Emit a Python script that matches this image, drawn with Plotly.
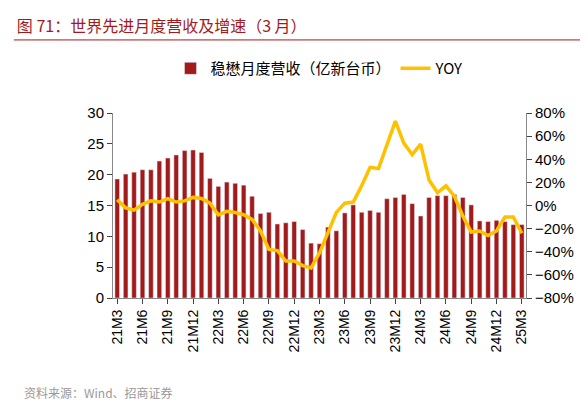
import plotly.graph_objects as go

months = []
for y in range(21, 26):
    for m in range(1, 13):
        if (y == 21 and m < 3) or (y == 25 and m > 3):
            continue
        months.append(f"{y}M{m}")

revenue = [19.3, 20.1, 20.4, 20.8, 20.8, 22.2, 22.7, 23.2, 23.9, 24.0, 23.6, 19.4,
           18.1, 18.8, 18.6, 18.3, 16.5, 13.7, 13.9, 12.0, 12.2, 12.4, 11.1, 8.9,
           8.8, 11.5, 10.9, 13.8, 15.1, 13.9, 14.2, 13.9, 16.1, 16.3, 16.8, 15.3,
           13.3, 16.3, 16.6, 16.6, 16.8, 16.3, 15.1, 12.5, 12.4, 12.6, 12.4, 11.9, 11.9]
yoy = [5, -2, -4, 1, 4, 3, 6, 3, 4, 7, 6, 2,
       -8, -5, -6, -8, -12, -22, -38, -39, -48, -48, -52, -54,
       -41, -24, -6, 2, 3, 17, 33, 32, 53, 73, 54, 44, 53, 22, 11, 17,
       8, -9, -23, -22, -26, -22, -10, -24, -24]
yoy = yoy[:48] + [-24]
yoy[-2] = -10

tick_labels = [m for m in months if m.endswith(("M3", "M6", "M9", "M12"))]

fig = go.Figure()
fig.add_trace(go.Bar(x=months, y=revenue, name="稳懋月度营收（亿新台币）",
                     marker_color="#a31a1a", width=0.55))
fig.add_trace(go.Scatter(x=months, y=yoy, name="YOY", yaxis="y2", mode="lines",
                         line=dict(color="#ffc000", width=3.5)))

fig.update_layout(
    width=588, height=409, plot_bgcolor="white", paper_bgcolor="white",
    font=dict(family="Noto Sans CJK SC, Liberation Sans", size=15, color="black"),
    margin=dict(l=105, r=70, t=105, b=119),
    bargap=0.4,
    title=dict(text="图 71：世界先进月度营收及增速（3 月）", xref="container", x=0.015,
               xanchor="left", yref="container", y=0.955, yanchor="middle",
               font=dict(size=16, color="#a31a1a")),
    legend=dict(orientation="h", x=0.5, xanchor="center", y=1.24, yanchor="middle",
                font=dict(size=15)),
    xaxis=dict(tickvals=tick_labels, tickangle=-90, showline=True, linecolor="#888",
               ticks="outside", tickfont=dict(size=14, family="Liberation Sans")),
    yaxis=dict(range=[0, 30], dtick=5, showline=True, linecolor="#888", ticks="outside",
               showgrid=False, tickfont=dict(size=15, family="Liberation Sans")),
    yaxis2=dict(range=[-80, 80], dtick=20, overlaying="y", side="right", showline=True,
                linecolor="#888", ticks="outside", ticksuffix="%", showgrid=False,
                tickfont=dict(size=15, family="Liberation Sans")),
    annotations=[
        dict(text="资料来源：Wind、招商证券", xref="paper", yref="paper",
             x=-0.22, y=-0.51, xanchor="left", yanchor="middle", showarrow=False,
             font=dict(size=12, color="#999")),
    ],
    shapes=[dict(type="line", xref="paper", yref="paper", x0=-0.24, x1=1.15,
                 y0=1.395, y1=1.395, line=dict(color="#a31a1a", width=1))],
)
fig.write_html("out.html")
